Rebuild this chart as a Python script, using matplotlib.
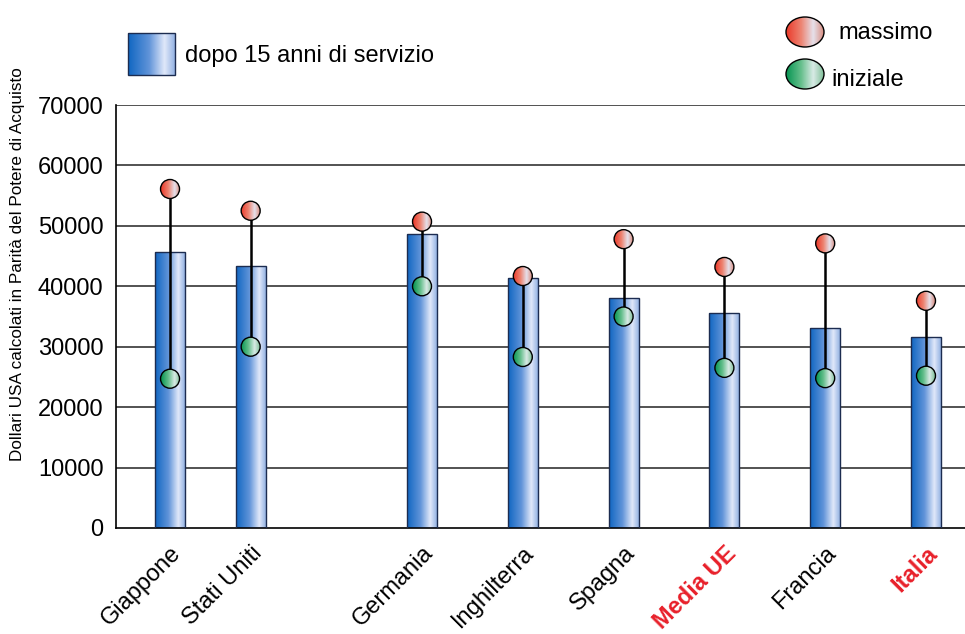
import numpy as np
import matplotlib.pyplot as plt
from matplotlib.colors import LinearSegmentedColormap
from matplotlib.patches import Ellipse, Rectangle

plt.rcParams['font.family'] = ['Liberation Sans', 'DejaVu Sans']

paesi = ['Giappone', 'Stati Uniti', 'Germania', 'Inghilterra', 'Spagna',
         'Media UE', 'Francia', 'Italia']
posizioni = [0, 0.8, 2.5, 3.5, 4.5, 5.5, 6.5, 7.5]
dopo_15_anni = [45600, 43300, 48600, 41300, 38100, 35600, 33100, 31600]
massimo = [56100, 52500, 50700, 41700, 47800, 43200, 47100, 37600]
iniziale = [24700, 30000, 40000, 28300, 35000, 26500, 24800, 25200]
evidenziati = ['Media UE', 'Italia']
yticks = [0, 10000, 20000, 30000, 40000, 50000, 60000, 70000]

# sfumature orizzontali
cmap_blu = LinearSegmentedColormap.from_list('blu', [
    (0.0, (0.06, 0.40, 0.76)), (0.45, (0.38, 0.58, 0.85)),
    (0.78, (0.88, 0.91, 0.98)), (1.0, (0.58, 0.70, 0.89))])
cmap_rosso = LinearSegmentedColormap.from_list('rosso', [
    (0.0, (0.92, 0.22, 0.16)), (0.4, (0.93, 0.52, 0.45)),
    (0.72, (0.90, 0.88, 0.92)), (1.0, (0.85, 0.55, 0.50))])
cmap_verde = LinearSegmentedColormap.from_list('verde', [
    (0.0, (0.02, 0.58, 0.32)), (0.4, (0.40, 0.75, 0.55)),
    (0.72, (0.85, 0.92, 0.90)), (1.0, (0.50, 0.75, 0.60))])


def gradiente(ax, patch, cmap, extent, z):
    g = np.linspace(0, 1, 256).reshape(1, -1)
    im = ax.imshow(g, cmap=cmap, extent=extent, aspect='auto', origin='lower',
                   zorder=z, interpolation='bilinear')
    im.set_clip_path(patch)


W, H = 965, 634
fig = plt.figure(figsize=(W / 100, H / 100), dpi=100)
ax = fig.add_axes([116 / W, (H - 528) / H, (W - 116) / W, 423 / H])
xmin, xmax = -0.536, 7.887
ymax = 70000
px_x = (W - 116) / (xmax - xmin)
px_y = 423 / ymax

# griglia
for v in yticks[1:]:
    ax.axhline(v, color='#444444', lw=1.3, zorder=0)

# barre
bars = ax.bar(posizioni, dopo_15_anni, width=30 / px_x, facecolor='none',
              edgecolor='#1c2c50', linewidth=1, zorder=3)
for b in bars:
    gradiente(ax, b, cmap_blu,
              [b.get_x(), b.get_x() + b.get_width(), 0, b.get_height()], 2)

# linee tra iniziale e massimo
ax.vlines(posizioni, iniziale, massimo, color='black', lw=1.8, zorder=4)

# pallini
d = 19
for serie, cm in [(massimo, cmap_rosso), (iniziale, cmap_verde)]:
    for x, v in zip(posizioni, serie):
        w, h = d / px_x, d / px_y
        e = Ellipse((x, v), w, h, facecolor='none', edgecolor='black',
                    lw=1, zorder=6)
        ax.add_patch(e)
        gradiente(ax, e, cm, [x - w / 2, x + w / 2, v - h / 2, v + h / 2], 5)

ax.set_xlim(xmin, xmax)
ax.set_ylim(0, ymax)
ax.set_yticks(yticks)
ax.set_yticklabels([str(v) for v in yticks], fontsize=17)
ax.tick_params(axis='y', length=0, pad=9)
ax.set_xticks(posizioni)
ax.set_xticklabels(paesi, fontsize=17, rotation=45, ha='right', va='top',
                   rotation_mode='anchor')
ax.tick_params(axis='x', length=0, pad=10)
for lbl in ax.get_xticklabels():
    if lbl.get_text() in evidenziati:
        lbl.set_color('#e8202a')
        lbl.set_fontweight('bold')
for s in ['top', 'right']:
    ax.spines[s].set_visible(False)
ax.spines['left'].set_linewidth(1.2)
ax.spines['bottom'].set_linewidth(1.2)
ax.set_facecolor('none')

fig.text(18 / W, 1 - 264 / H, 'Dollari USA calcolati in Parità del Potere di Acquisto',
         rotation=90, fontsize=12.3, ha='center', va='center')

# legenda in coordinate pixel
leg = fig.add_axes([0, 0, 1, 1], zorder=10)
leg.set_facecolor('none')
r = Rectangle((128, 33), 47, 42, facecolor='none', edgecolor='#1c2c50', lw=1, zorder=3)
leg.add_patch(r)
gradiente(leg, r, cmap_blu, [128, 175, 75, 33], 2)
leg.text(185, 56, 'dopo 15 anni di servizio', fontsize=17, va='center')

for cy, cm, testo, tx, ty in [(32, cmap_rosso, 'massimo', 838, 33),
                              (74, cmap_verde, 'iniziale', 831, 80)]:
    e = Ellipse((805, cy), 38, 30, facecolor='none', edgecolor='black', lw=1, zorder=3)
    leg.add_patch(e)
    gradiente(leg, e, cm, [786, 824, cy + 15, cy - 15], 2)
    leg.text(tx, ty, testo, fontsize=17, va='center')

leg.set_xlim(0, W)
leg.set_ylim(H, 0)
leg.axis('off')

fig.savefig('out.png', dpi=100)
